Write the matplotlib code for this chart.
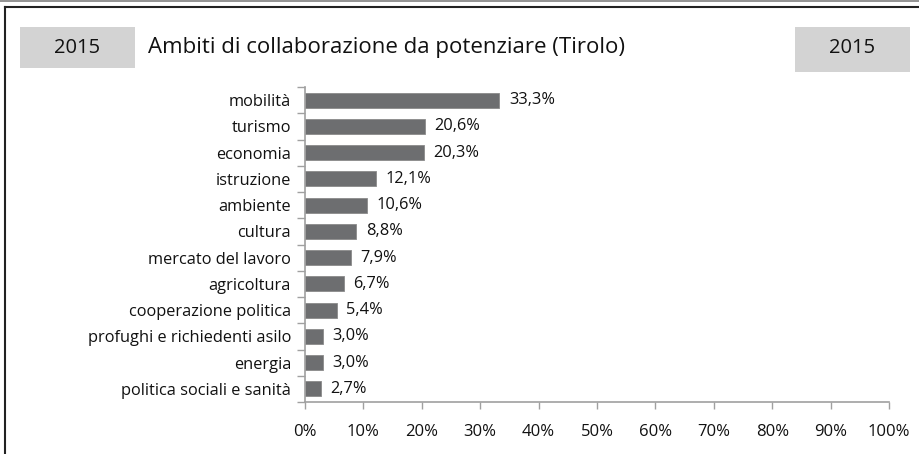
import matplotlib
matplotlib.use("Agg")
import matplotlib.pyplot as plt
from matplotlib.lines import Line2D
from matplotlib.patches import Rectangle

categories = ["mobilità", "turismo", "economia", "istruzione", "ambiente", "cultura",
              "mercato del lavoro", "agricoltura", "cooperazione politica",
              "profughi e richiedenti asilo", "energia", "politica sociali e sanità"]
values = [33.3, 20.6, 20.3, 12.1, 10.6, 8.8, 7.9, 6.7, 5.4, 3.0, 3.0, 2.7]
xticks = [0, 10, 20, 30, 40, 50, 60, 70, 80, 90, 100]
title = "Ambiti di collaborazione da potenziare (Tirolo)"
year = "2015"

plt.rcParams['font.family'] = ['Open Sans', 'DejaVu Sans']

W, H = 920, 454
fig = plt.figure(figsize=(W / 100, H / 100), dpi=100)

def fx(px):
    return px / W

def fy(py):
    return 1 - py / H

# frame lines
fig.add_artist(Line2D([0, 1], [fy(1), fy(1)], color="#808080", lw=1.2))
fig.add_artist(Line2D([fx(5), 1], [fy(7), fy(7)], color="#222222", lw=1.5))
fig.add_artist(Line2D([fx(5), fx(5)], [fy(7), 0], color="#222222", lw=1.5))

# header boxes
fig.add_artist(Rectangle((fx(20), fy(68)), fx(115), (68 - 27) / H, color="#d3d3d3", lw=0))
fig.add_artist(Rectangle((fx(795), fy(72)), fx(115), (72 - 27) / H, color="#d3d3d3", lw=0))
fig.text(fx(77), fy(48), year, ha="center", va="center", fontsize=14.5, color="#111111")
fig.text(fx(852), fy(48), year, ha="center", va="center", fontsize=14.5, color="#111111")
fig.text(fx(148), fy(48), title, ha="left", va="center", fontsize=16, color="#111111")

left, right, top, bottom = 305, 889, 87, 402
ax = fig.add_axes([fx(left), fy(bottom), fx(right - left), (bottom - top) / H])

pos = list(range(len(categories)))
ax.barh(pos, values, height=0.57, color="#6d6e70", edgecolor="#8a8a8a", linewidth=0.6, zorder=2)
for p, v in zip(pos, values):
    ax.text(v + 1.6, p, f"{v:.1f}%".replace(".", ","), va="center", ha="left",
            fontsize=11.8, color="#111111")

ax.set_xlim(0, 100)
ax.set_ylim(len(categories) - 0.5, -0.5)
ax.set_xticks(xticks)
ax.set_xticklabels([f"{t}%" for t in xticks], fontsize=12, color="#111111")
ax.set_yticks([i - 0.5 for i in range(len(categories) + 1)])
ax.set_yticklabels([])
ax.set_yticks(pos, minor=True)
ax.set_yticklabels(categories, minor=True, fontsize=11.8, color="#111111")
ax.tick_params(axis="y", which="major", length=6, color="#a0a0a0", width=1)
ax.tick_params(axis="y", which="minor", length=0, pad=10)
ax.tick_params(axis="x", length=5, color="#a0a0a0", width=1, pad=11)

for s in ["top", "right"]:
    ax.spines[s].set_visible(False)
for s in ["left", "bottom"]:
    ax.spines[s].set_color("#a0a0a0")
    ax.spines[s].set_linewidth(1.2)

fig.savefig("out.png", dpi=100)
